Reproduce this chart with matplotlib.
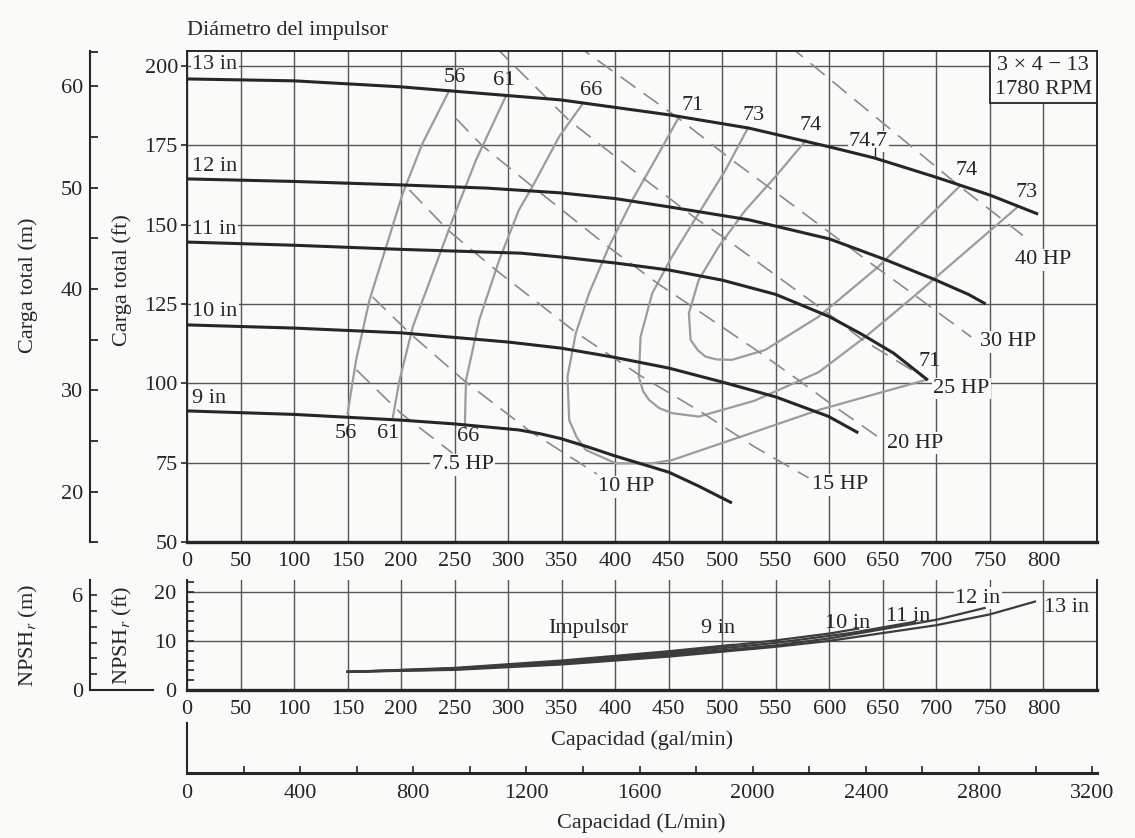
import numpy as np
import matplotlib.pyplot as plt
from matplotlib.patches import Rectangle
from matplotlib.ticker import MultipleLocator, FixedLocator

plt.rcParams['font.family'] = ['Liberation Serif', 'DejaVu Serif']
plt.rcParams['mathtext.fontset'] = 'stix'
plt.rcParams['font.size'] = 16

BG = '#fafaf8'
INK = '#262626'
GRID = '#555555'
EFF = '#9c9c9c'
HPC = '#8a8a8a'

# ---- head curves: capacity (gal/min) vs total head (ft)
imp_labels = ['9 in', '10 in', '11 in', '12 in', '13 in']
head_q = [
    [0, 100, 200, 250, 310, 330, 349, 375, 399, 450, 478, 509],
    [0, 100, 200, 300, 349, 399, 450, 500, 550, 599, 627],
    [0, 100, 200, 312, 349, 400, 450, 500, 550, 600, 630, 660, 692],
    [0, 100, 200, 280, 349, 400, 450, 525, 600, 652, 699, 730, 746],
    [0, 100, 200, 349, 450, 525, 600, 642, 699, 750, 795],
]
head_h = [
    [91.3, 90.2, 88.4, 87.2, 85.3, 84.1, 82.6, 79.9, 77.2, 72.0, 67.6, 62.3],
    [118.4, 117.4, 115.9, 113.0, 111.1, 108.2, 104.8, 100.4, 95.7, 89.6, 84.4],
    [144.5, 143.5, 142.2, 141.0, 139.8, 137.9, 135.7, 132.5, 128.0, 121.0, 115.5, 109.5, 101.0],
    [164.4, 163.6, 162.5, 161.5, 160.0, 158.2, 155.6, 151.5, 145.5, 139.0, 132.6, 128.0, 125.0],
    [195.9, 195.3, 193.4, 189.3, 184.6, 180.4, 174.5, 171.0, 165.0, 159.3, 153.3],
]
imp_label_h = [95.3, 122.6, 148.6, 168.3, 200.3]

# best efficiency point on the 13 in curve
bep_q, bep_h = 643, 171.0

# ---- efficiency contours (%)
eff_q = {
    '56': [150, 158, 170.5, 186, 201.6, 220, 245],
    '61': [192, 198.5, 211, 229.5, 248, 270, 298],
    '66': [259.5, 260.6, 273, 291.7, 310, 322.7, 347.6, 370],
    '71': [460, 440.8, 416, 394.2, 375.6, 363.2, 355.4, 357, 364, 372.5, 400.5, 434.6,
           453, 520, 590, 689.4],
    '73': [524, 503, 478, 453, 434.6, 423.7, 422, 426, 431.5, 441, 453, 478, 530, 590,
           635, 680, 776],
    '74': [578, 549.6, 521.7, 496.7, 478, 468.8, 470.4, 477, 484.3, 495, 509, 540, 590,
           646, 722],
}
eff_h = {
    '56': [90.5, 107.4, 126.3, 143, 159.9, 175.6, 192.3],
    '61': [88.8, 101, 117.9, 134.7, 151.5, 170.4, 190.6],
    '66': [86.2, 101, 120, 138.9, 154.6, 162, 177.7, 188.3],
    '71': [184.2, 172.5, 157.8, 143.1, 128.4, 115.8, 102.1, 88.4, 83, 79, 74.8, 74.8,
           75.8, 83.5, 91.6, 101],
    '73': [180.5, 167.2, 153.6, 139.9, 128.4, 114.7, 102.1, 97.5, 94.8, 92.2, 90.6,
           89.5, 94.5, 103.5, 115, 127.7, 155.6],
    '74': [176.5, 165.1, 154.6, 143.1, 132.6, 122.1, 113.7, 110.5, 108.4, 107.5, 107.4,
           110.5, 121, 136.8, 162.2],
}
eff_labels = [
    ('56', 249.8, 196.3), ('61', 296.4, 195.3), ('66', 377.2, 192.1),
    ('71', 471.9, 187.6), ('73', 529.4, 184.5), ('74', 582.2, 181.1),
    ('74.7', 636.5, 176.2), ('74', 728.2, 166.9), ('73', 784, 160.1),
    ('56', 148.8, 84.3), ('61', 187.6, 84.3), ('66', 262.2, 83.2), ('71', 694, 106.8),
]

# ---- brake horsepower lines
hp_q = {
    '7.5 HP': [158.4, 200, 248],
    '10 HP': [173.3, 209, 260, 320, 383],
    '15 HP': [207.8, 244.3, 288.5, 363.4, 423, 480, 530, 580.6],
    '20 HP': [251, 276, 322.7, 393.5, 439.5, 470.8, 538, 574, 604, 646],
    '25 HP': [288, 357, 427, 475, 502.5, 596, 631, 688],
    '30 HP': [362, 461, 508.4, 541.8, 644, 680, 732.5],
    '40 HP': [562, 722, 783],
}
hp_h = {
    '7.5 HP': [104.2, 90.5, 78],
    '10 HP': [127.2, 115.5, 100.5, 85, 71.4],
    '15 HP': [160.9, 148.1, 135.7, 116, 102.5, 91, 80, 70.2],
    '20 HP': [183.5, 174.8, 162, 143, 131.5, 124.4, 109, 100.3, 92.9, 83],
    '25 HP': [206, 182.8, 164.4, 152, 145.7, 122.7, 113.7, 101.9],
    '30 HP': [207, 183, 170.5, 162.2, 136.5, 127.7, 114.6],
    '40 HP': [206.5, 162, 146],
}
hp_label_pos = {
    '7.5 HP': (257.5, 74.3), '10 HP': (409.8, 67.4), '15 HP': (610, 68),
    '20 HP': (680, 81.1), '25 HP': (723.5, 98.4), '30 HP': (767, 113.1),
    '40 HP': (799.6, 138.9),
}

# ---- NPSHr curves (ft)
npsh_q = [
    [150, 250, 350, 450, 510],
    [150, 250, 350, 450, 550, 600, 627],
    [150, 250, 350, 450, 550, 620, 680],
    [150, 250, 350, 450, 550, 600, 650, 700, 745],
    [150, 250, 350, 450, 550, 600, 650, 700, 750, 792],
]
npsh_ft = [
    [3.7, 4.5, 6.0, 7.9, 9.2],
    [3.7, 4.4, 5.8, 7.7, 10.1, 11.5, 12.5],
    [3.7, 4.3, 5.6, 7.4, 9.6, 11.6, 13.9],
    [3.7, 4.2, 5.4, 7.1, 9.1, 10.5, 12.4, 14.3, 16.7],
    [3.7, 4.1, 5.2, 6.8, 8.8, 10.0, 11.6, 13.2, 15.4, 18.0],
]
npsh_labels = [('Impulsor', 374.6, 12.6), ('9 in', 496, 12.6), ('10 in', 617, 13.6),
               ('11 in', 674, 15.0), ('12 in', 738.5, 18.7), ('13 in', 822, 16.7)]

W, H = 1135, 838


def rect(x0, y0, x1, y1):
    return [x0 / W, 1 - y1 / H, (x1 - x0) / W, (y1 - y0) / H]


fig = plt.figure(figsize=(W / 100, H / 100), dpi=100, facecolor=BG)

# ================= main chart
ax = fig.add_axes(rect(187, 51, 1097, 542), facecolor=BG)
ax.set_xlim(0, 850)
ax.set_ylim(50, 204.7)
ax.set_xticks(range(0, 801, 50))
ax.set_yticks(range(50, 201, 25))
ax.set_axisbelow(True)
ax.grid(color=GRID, lw=1.0)
ax.tick_params(axis='x', length=0, pad=7, labelcolor=INK)
ax.tick_params(axis='y', length=4, width=1.2, pad=2.5, color=INK, labelcolor=INK)
for s in ax.spines.values():
    s.set_color(INK)
    s.set_linewidth(1.4)
ax.spines['bottom'].set_linewidth(2.4)

for k in eff_q:
    ax.plot(eff_q[k], eff_h[k], color=EFF, lw=1.6, zorder=2)
for k in hp_q:
    ax.plot(hp_q[k], hp_h[k], color=HPC, lw=1.2, dashes=(11, 6), zorder=2)
for q, h in zip(head_q, head_h):
    ax.plot(q, h, color=INK, lw=2.2, zorder=3, solid_capstyle='butt')
ax.plot([bep_q, bep_q], [bep_h, bep_h + 3], color=INK, lw=1.0, zorder=3)

lab_box = dict(boxstyle='square,pad=0.06', fc=BG, ec='none')
for name, y in zip(imp_labels, imp_label_h):
    ax.text(5, y, name, ha='left', va='center', color=INK, bbox=lab_box, zorder=2.5)
for t, x, y in eff_labels:
    ax.text(x, y, t, ha='center', va='center', color=INK, zorder=2.5,
            bbox=lab_box if t == '74.7' else None)
for k, (x, y) in hp_label_pos.items():
    ax.text(x, y, k, ha='center', va='center', color=INK, bbox=lab_box, zorder=2.5)

ax.add_patch(Rectangle((0.8824, 0.894), 0.1176, 0.106, transform=ax.transAxes,
                       fc=BG, ec=INK, lw=1.3, zorder=5))
ax.text(0.941, 0.9695, '3 × 4 − 13', transform=ax.transAxes, ha='center',
        va='center', color=INK, zorder=6)
ax.text(0.941, 0.9226, '1780 RPM', transform=ax.transAxes, ha='center',
        va='center', color=INK, zorder=6)

# metre scale for head
axm = fig.add_axes(rect(90, 51, 100, 542))
axm.patch.set_visible(False)
axm.set_ylim(15.07, 63.45)
axm.set_xticks([])
axm.yaxis.set_major_locator(FixedLocator([20, 30, 40, 50, 60]))
axm.yaxis.set_minor_locator(FixedLocator([15.1, 25, 35, 45, 55, 63.4]))
axm.tick_params(axis='y', which='both', direction='in', length=6, width=1.3,
                pad=5, color=INK, labelcolor=INK)
for k in ['right', 'top', 'bottom']:
    axm.spines[k].set_visible(False)
axm.spines['left'].set_linewidth(1.5)
axm.spines['left'].set_color(INK)

# ================= NPSH panel
ax2 = fig.add_axes(rect(187, 580, 1097, 690), facecolor=BG)
ax2.set_xlim(0, 850)
ax2.set_ylim(0, 22.4)
ax2.set_xticks(range(0, 801, 50))
ax2.set_yticks([0, 10, 20])
ax2.yaxis.set_minor_locator(MultipleLocator(2))
ax2.set_axisbelow(True)
ax2.grid(color=GRID, lw=1.0)
ax2.tick_params(axis='x', length=0, pad=7, labelcolor=INK)
ax2.tick_params(axis='y', which='both', direction='in', length=5, width=1.2,
                pad=8, color=INK, labelcolor=INK)
ax2.spines['top'].set_visible(False)
for s in ['left', 'right', 'bottom']:
    ax2.spines[s].set_color(INK)
    ax2.spines[s].set_linewidth(1.4)
ax2.spines['bottom'].set_linewidth(2.4)
for q, n in zip(npsh_q, npsh_ft):
    ax2.plot(q, n, color='#3c3c3c', lw=1.6, zorder=3)
for t, x, y in npsh_labels:
    ax2.text(x, y, t, ha='center', va='center', color=INK, zorder=2.5,
             bbox=lab_box if t == '12 in' else None)

axnm = fig.add_axes(rect(90, 580, 153, 690))
axnm.patch.set_visible(False)
axnm.set_ylim(0, 6.95)
axnm.set_xticks([])
axnm.set_yticks(range(0, 7))
axnm.set_yticklabels(['0', '', '', '', '', '', '6'])
axnm.tick_params(axis='y', direction='in', length=5, width=1.2, pad=5,
                 color=INK, labelcolor=INK)
for k in ['right', 'top']:
    axnm.spines[k].set_visible(False)
for k in ['left', 'bottom']:
    axnm.spines[k].set_linewidth(1.5)
    axnm.spines[k].set_color(INK)

# ================= litres per minute scale
ax3 = fig.add_axes(rect(187, 723, 1097, 773))
ax3.patch.set_visible(False)
ax3.set_xlim(0, 3217)
ax3.set_ylim(0, 1)
ax3.set_yticks([])
ax3.set_xticks(range(0, 3201, 400))
ax3.xaxis.set_minor_locator(MultipleLocator(200))
ax3.tick_params(axis='x', which='both', direction='in', length=5, width=1.2,
                pad=8, color=INK, labelcolor=INK)
for k in ['right', 'top']:
    ax3.spines[k].set_visible(False)
ax3.spines['left'].set_linewidth(1.5)
ax3.spines['bottom'].set_linewidth(2.2)
for k in ['left', 'bottom']:
    ax3.spines[k].set_color(INK)

# ================= titles and axis names
fig.text(187 / W, 1 - 31 / H, 'Diámetro del impulsor', ha='left', va='center', color=INK)
fig.text(28 / W, 1 - 285 / H, 'Carga total (m)', rotation=90, ha='center', va='center', color=INK)
fig.text(122 / W, 1 - 280 / H, 'Carga total (ft)', rotation=90, ha='center', va='center', color=INK)
fig.text(28 / W, 1 - 635 / H, r'NPSH$_r$ (m)', rotation=90, ha='center', va='center', color=INK)
fig.text(122 / W, 1 - 635 / H, r'NPSH$_r$ (ft)', rotation=90, ha='center', va='center', color=INK)
fig.text(642 / W, 1 - 740 / H, 'Capacidad (gal/min)', ha='center', va='center', color=INK)
fig.text(641 / W, 1 - 823 / H, 'Capacidad (L/min)', ha='center', va='center', color=INK)

fig.savefig('out.png', dpi=100, facecolor=BG)
